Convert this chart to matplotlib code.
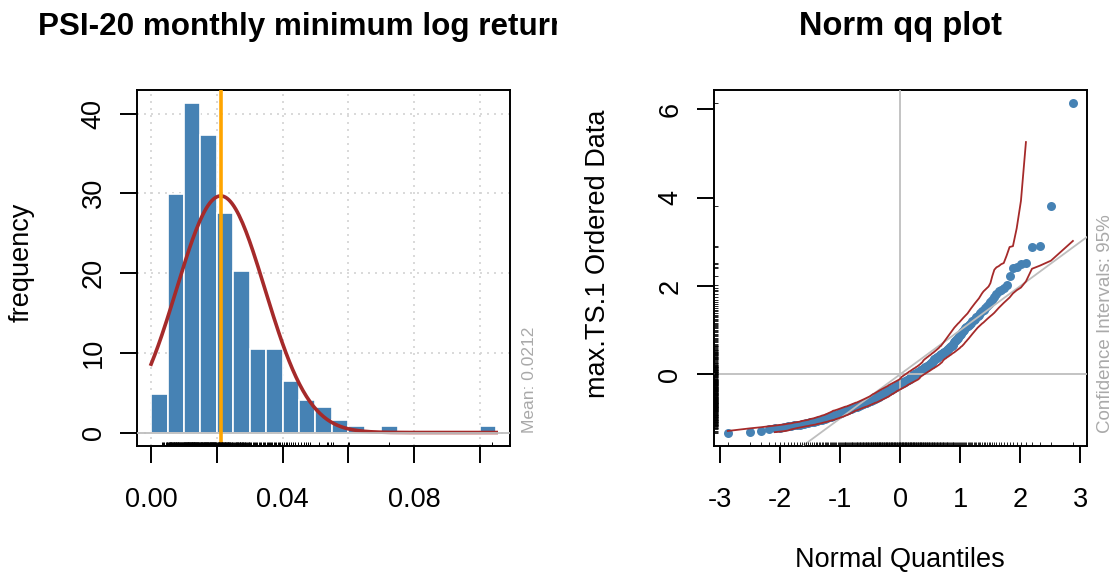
import numpy as np
import matplotlib
matplotlib.use("Agg")
import matplotlib.pyplot as plt
from matplotlib.transforms import Bbox, TransformedBbox
from statistics import NormalDist

W, H, DPI = 1114, 576, 100
plt.rcParams['font.family'] = ['Liberation Sans', 'DejaVu Sans']

# Monthly minimum log returns of the PSI-20 (sign flipped), sorted, in units of 1e-4
returns_1e4 = [
    34, 37, 39, 44, 47, 49,
    51, 53, 54, 56, 57, 58, 60, 61, 62, 64, 65, 66, 67, 69, 70, 71, 72, 73, 75, 76,
    77, 78, 80, 81, 82, 83, 85, 86, 87, 88, 90, 91, 93, 94, 96, 97, 99,
    101, 101, 102, 103, 104, 105, 106, 107, 108, 109, 110, 111, 112, 113, 113, 114,
    115, 116, 117, 118, 119, 120, 121, 122, 123, 124, 125, 125, 126, 127, 128, 129,
    130, 131, 132, 133, 134, 135, 136, 137, 138, 139, 140, 141, 142, 143, 144, 145,
    147, 148, 149,
    151, 152, 152, 154, 155, 156, 157, 159, 160, 161, 162, 163, 164, 165, 166, 167,
    168, 169, 170, 171, 172, 173, 174, 175, 176, 178, 179, 180, 181, 182, 183, 184,
    185, 186, 187, 188, 189, 190, 191, 192, 193, 194, 195, 196, 198, 199,
    203, 204, 206, 207, 208, 210, 211, 212, 213, 215, 216, 217, 219, 220, 221, 222,
    224, 225, 226, 228, 229, 230, 231, 233, 234, 235, 237, 238, 240, 241, 243, 245,
    247, 248,
    253, 255, 257, 259, 260, 262, 264, 265, 267, 269, 270, 272, 274, 276, 277, 279,
    281, 283, 285, 287, 289, 291, 294, 297, 298,
    302, 305, 309, 312, 316, 319, 323, 327, 331, 335, 339, 343, 347,
    352, 355, 359, 362, 366, 369, 373, 377, 381, 385, 389, 393, 397,
    403, 409, 415, 421, 427, 433, 439, 446,
    456, 464, 470, 476, 483,
    511, 536, 539, 547,
    552, 599,
    603,
    725,
    1038,
]

bin_width = 0.005
hist_xticks = [0.00, 0.02, 0.04, 0.06, 0.08, 0.10]
hist_xticklabels = ["0.00", "", "0.04", "", "0.08", ""]
hist_yticks = [0, 10, 20, 30, 40]
qq_xticks = [-3, -2, -1, 0, 1, 2, 3]
qq_yticks = [0, 2, 4, 6]

title_left = "PSI-20 monthly minimum log returns"
title_right = "Norm qq plot"
ylabel_left = "frequency"
ylabel_right = "max.TS.1 Ordered Data"
xlabel_right = "Normal Quantiles"

STEEL = "#4682B4"
BROWN = "#A52A2A"
GREY = "#BEBEBE"
DARKGREY = "#A9A9A9"
LIGHTGREY = "#D3D3D3"
ORANGE = "#FFA500"

x = np.array(returns_1e4, dtype=float) / 10000.0
n = len(x)
mean = x.mean()
sd = x.std(ddof=1)

def ext(lo, hi, f=0.04):
    d = (hi - lo) * f
    return lo - d, hi + d

def px_box(left, top, right, bottom):
    return [left / W, 1 - bottom / H, (right - left) / W, (bottom - top) / H]

fig = plt.figure(figsize=(W / DPI, H / DPI), dpi=DPI)
ax1 = fig.add_axes(px_box(137.3, 90, 510, 445.7))
ax2 = fig.add_axes(px_box(714, 90, 1086.7, 445.7))

FS = 19.5
for ax in (ax1, ax2):
    for sp in ax.spines.values():
        sp.set_linewidth(1.4)
        sp.set_color("black")
    ax.tick_params(direction="out", length=12, width=1.4, labelsize=FS)
    ax.tick_params(axis="x", pad=18)
    ax.tick_params(axis="y", pad=10, labelrotation=90)

# ---- histogram ----
nbins = int(round((x.max() - 0) / bin_width + 0.4999))
edges = np.round(np.arange(nbins + 1) * bin_width, 6)
counts, _ = np.histogram(x, bins=edges)
dens = counts / (n * bin_width)

ax1.set_axisbelow(True)
ax1.bar(edges[:-1], dens, width=bin_width, align="edge", color=STEEL,
        edgecolor="white", linewidth=1.2, zorder=2)
s = np.linspace(edges[0], edges[-1], 201)
ax1.plot(s, np.exp(-0.5 * ((s - mean) / sd) ** 2) / (sd * np.sqrt(2 * np.pi)),
         color=BROWN, lw=2.6, zorder=3)
ax1.axhline(0, color=GREY, lw=1.3, zorder=4)
ax1.axvline(mean, color=ORANGE, lw=2.6, zorder=5)
ax1.vlines(x, 0, 0.01, transform=ax1.get_xaxis_transform(), color="black",
           lw=0.7, zorder=6)
ax1.set_xlim(*ext(edges[0], edges[-1]))
ax1.set_ylim(*ext(0, dens.max()))
ax1.set_xticks(hist_xticks)
ax1.set_xticklabels(hist_xticklabels)
ax1.set_yticks(hist_yticks)
ax1.set_yticklabels([str(v) for v in hist_yticks], rotation=90, va="center")
for v in hist_xticks:
    ax1.axvline(v, color=LIGHTGREY, lw=1.2, ls=(0, (1.2, 3)), zorder=1)
for v in hist_yticks:
    ax1.axhline(v, color=LIGHTGREY, lw=1.2, ls=(0, (1.2, 3)), zorder=1)

fig.text(530 / W, 1 - 433 / H, "Mean: {:.3g}".format(mean), rotation=90,
         ha="center", va="bottom", color=DARKGREY, fontsize=12.5)

# ---- normal qq plot ----
X = np.sort((x - mean) / sd)
p = (np.arange(1, n + 1) - 0.5) / n
Z = np.array([NormalDist().inv_cdf(v) for v in p])

ax2.scatter(Z, X, s=42, color=STEEL, linewidths=0, zorder=2)
ax2.axhline(0, color=GREY, lw=1.3, zorder=3)
ax2.axvline(0, color=GREY, lw=1.3, zorder=3)
ax2.axline((0, 0), slope=1, color=GREY, lw=1.3, zorder=3)
ax2.vlines(Z, 0, 0.01, transform=ax2.get_xaxis_transform(), color="black",
           lw=0.6, zorder=4)
ax2.hlines(X, 0, 0.01, transform=ax2.get_yaxis_transform(), color="black",
           lw=0.6, zorder=4)

half = 1.96 * np.sqrt(p * (1 - p) / n)
for sign in (-1, 1):
    pb = p + sign * half
    ok = (pb > 0) & (pb < 1)
    ax2.plot(Z[ok], np.quantile(X, pb[ok]), color=BROWN, lw=1.3, zorder=5)

ax2.set_xlim(*ext(Z.min(), Z.max()))
ax2.set_ylim(*ext(X.min(), X.max()))
ax2.set_xticks(qq_xticks)
ax2.set_xticklabels([str(v) for v in qq_xticks])
ax2.set_yticks(qq_yticks)
ax2.set_yticklabels([str(v) for v in qq_yticks], rotation=90, va="center")

fig.text(1105 / W, 1 - 433 / H, "Confidence Intervals: 95%", rotation=90,
         ha="center", va="bottom", color=DARKGREY, fontsize=13.5)

# ---- titles and axis labels ----
t1 = fig.text(38 / W, 1 - 35 / H, title_left, ha="left", va="baseline",
              fontsize=22.6, fontweight="bold")
t1.set_clip_box(TransformedBbox(Bbox([[0, 0], [0.5, 1]]), fig.transFigure))
t1.set_clip_on(True)
fig.text(900.3 / W, 1 - 35 / H, title_right, ha="center", va="baseline",
         fontsize=23.5, fontweight="bold")
fig.text(22 / W, 1 - 262 / H, ylabel_left, rotation=90, ha="center",
         va="center", fontsize=FS)
fig.text(598 / W, 1 - 254 / H, ylabel_right, rotation=90, ha="center",
         va="center", fontsize=FS)
fig.text(900.3 / W, 1 - 560 / H, xlabel_right, ha="center", va="center",
         fontsize=FS)

fig.savefig("out.png", dpi=DPI)
